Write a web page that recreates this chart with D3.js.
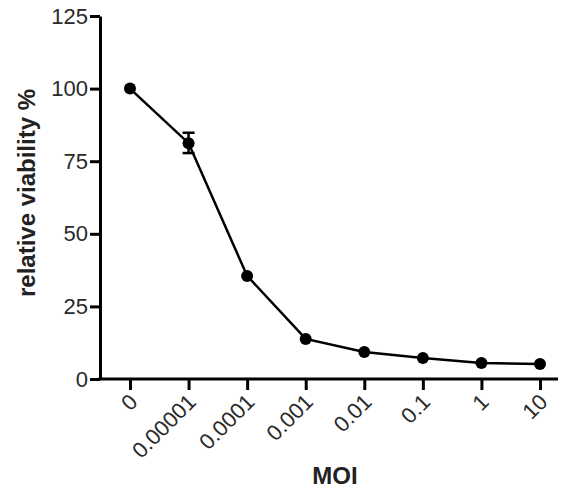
<!DOCTYPE html>
<html>
<head>
<meta charset="utf-8">
<script src="https://cdn.jsdelivr.net/npm/d3@7"></script>
<style>
  body { margin: 0; background: #fff; }
  svg { display: block; }
  .tick text { font-family: "Liberation Sans", Arial, sans-serif; font-size: 22px; fill: #2a2a2a; }
</style>
</head>
<body>
<div id="graph"></div>
<script>
var moi = ["0", "0.00001", "0.0001", "0.001", "0.01", "0.1", "1", "10"];
var viability = [100, 81.2, 35.5, 13.8, 9.3, 7.2, 5.5, 5.2];
var errLow = [100, 77.8, 35.5, 13.8, 9.3, 7.2, 5.5, 5.2];
var errHigh = [100, 84.8, 35.5, 13.8, 9.3, 7.2, 5.5, 5.2];
var yTicks = [0, 25, 50, 75, 100, 125];

var width = 561, height = 491;

var svg = d3.select("#graph")
  .append("svg")
  .attr("width", width)
  .attr("height", height);

var x = d3.scalePoint()
  .domain(moi)
  .range([130, 540]);

var y = d3.scaleLinear()
  .domain([0, 125])
  .range([379, 16]);

// y axis
var yAxis = svg.append("g")
  .attr("transform", "translate(100,0)")
  .call(d3.axisLeft(y).tickValues(yTicks).tickSize(10).tickSizeOuter(0).tickPadding(2));
yAxis.select(".domain").attr("stroke-width", 3).attr("stroke", "#000");
yAxis.selectAll(".tick line").attr("stroke-width", 3).attr("stroke", "#000");

// x axis
var xAxis = svg.append("g")
  .attr("transform", "translate(0,379)")
  .call(d3.axisBottom(x).tickSize(11).tickSizeOuter(0));
xAxis.select(".domain").remove();
xAxis.append("line")
  .attr("x1", 98.5).attr("x2", 558)
  .attr("stroke", "#000").attr("stroke-width", 3);
xAxis.selectAll(".tick line").attr("stroke-width", 3).attr("stroke", "#000");
xAxis.selectAll(".tick text")
  .attr("text-anchor", "end")
  .attr("dy", null)
  .attr("y", 0)
  .attr("x", 0)
  .attr("transform", "translate(3,19) rotate(-45)")
  .attr("dominant-baseline", "central");

// axis titles
svg.append("text")
  .attr("transform", "translate(35,193) rotate(-90)")
  .attr("text-anchor", "middle")
  .style("font-family", "'Liberation Sans', Arial, sans-serif")
  .style("font-weight", "bold")
  .style("font-size", "24px")
  .style("fill", "#222")
  .text("relative viability %");

svg.append("text")
  .attr("x", 335)
  .attr("y", 484)
  .attr("text-anchor", "middle")
  .style("font-family", "'Liberation Sans', Arial, sans-serif")
  .style("font-weight", "bold")
  .style("font-size", "24px")
  .style("fill", "#222")
  .text("MOI");

// line
var line = d3.line()
  .x(function(d, i) { return x(moi[i]); })
  .y(function(d) { return y(d); });

svg.append("path")
  .datum(viability)
  .attr("d", line)
  .attr("fill", "none")
  .attr("stroke", "#000")
  .attr("stroke-width", 2.5);

// error bars
var eb = svg.selectAll(".err")
  .data(moi.filter(function(d, i) { return errHigh[i] !== errLow[i]; }))
  .enter().append("g")
  .attr("class", "err");
eb.append("line")
  .attr("x1", function(d) { return x(d); })
  .attr("x2", function(d) { return x(d); })
  .attr("y1", function(d) { return y(errLow[moi.indexOf(d)]); })
  .attr("y2", function(d) { return y(errHigh[moi.indexOf(d)]); })
  .attr("stroke", "#000").attr("stroke-width", 2.5);
[errLow, errHigh].forEach(function(arr) {
  eb.append("line")
    .attr("x1", function(d) { return x(d) - 6; })
    .attr("x2", function(d) { return x(d) + 6; })
    .attr("y1", function(d) { return y(arr[moi.indexOf(d)]); })
    .attr("y2", function(d) { return y(arr[moi.indexOf(d)]); })
    .attr("stroke", "#000").attr("stroke-width", 2.5);
});

// points
svg.selectAll(".pt")
  .data(viability)
  .enter()
  .append("circle")
  .attr("class", "pt")
  .attr("cx", function(d, i) { return x(moi[i]); })
  .attr("cy", function(d) { return y(d); })
  .attr("r", 6)
  .attr("fill", "#000");
</script>
</body>
</html>
